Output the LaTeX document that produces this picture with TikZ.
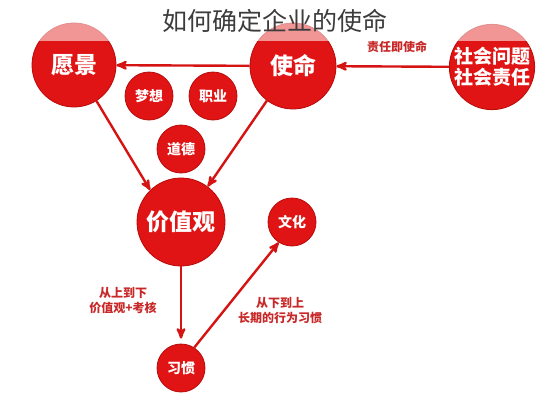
\documentclass[tikz,border=0pt]{standalone}
\usepackage{fontspec}
\newfontfamily\cjk{Noto Sans CJK SC}
\usetikzlibrary{arrows}
\definecolor{ballred}{RGB}{224,20,20}
\definecolor{ballrim}{RGB}{185,10,10}
\definecolor{notered}{RGB}{200,40,40}
\definecolor{titlegray}{RGB}{60,60,60}
\tikzset{bigball/.style={ % Sets the properties for the large circles
circle,
fill=ballred,
draw=ballrim,
line width=0.8pt,
minimum size=84pt,
inner sep=0pt,
text=white,
font=\cjk\bfseries\fontsize{23}{23}\selectfont},
smallball/.style={ % Same look, smaller circles
bigball,
minimum size=48pt,
font=\cjk\bfseries\fontsize{14}{14}\selectfont},
note/.style={ % Red text beside the arrows
text=notered,
align=center,
font=\cjk\bfseries\fontsize{12}{15}\selectfont},
every edge/.style={ % Sets the properties for each arrow
draw=ballred!95!black,
->,>=stealth', % Makes edges directed with bold arrowheads
line width=2.4pt}}

\begin{document}
\begin{tikzpicture}[x=1pt,y=-1pt]
                \useasboundingbox (0,0) rectangle (548,400);
                \node[bigball] (vision) at (74,65) {愿景};
                \node[bigball, minimum size=86pt] (mission) at (293,66) {使命};
                \node[bigball, minimum size=82pt, align=center, font=\cjk\bfseries\fontsize{19}{21}\selectfont] (society) at (492,67) {社会问题\\社会责任};
                \node[bigball, minimum size=88pt] (values) at (181,222) {价值观};
                \node[smallball] (dream) at (149,96) {梦想};
                \node[smallball] (career) at (213,96) {职业};
                \node[smallball] (ethics) at (181,149) {道德};
                \node[smallball] (culture) at (292,222) {文化};
                \node[smallball] (habit) at (181,368) {习惯};

                \draw (society) edge (mission)
                (mission) edge (vision)
                (vision.-58) edge (values.134)
                (mission.233) edge (values.53)
                (values) edge[shorten >=5pt] (habit)
                (habit.57) edge (culture.237);

                \node[note] (dutynote) at (397,47) {责任即使命};
                \node[note] (downnote) at (123,301) {从上到下\\价值观+考核};
                \node[note] (upnote) at (280,310) {从下到上\\长期的行为习惯};

                \fill[white, opacity=0.55] (0,0) rectangle (548,41);
                \node[text=titlegray, font=\cjk\fontsize{25}{25}\selectfont] (title) at (275,21) {如何确定企业的使命};
            \end{tikzpicture}
\end{document}
